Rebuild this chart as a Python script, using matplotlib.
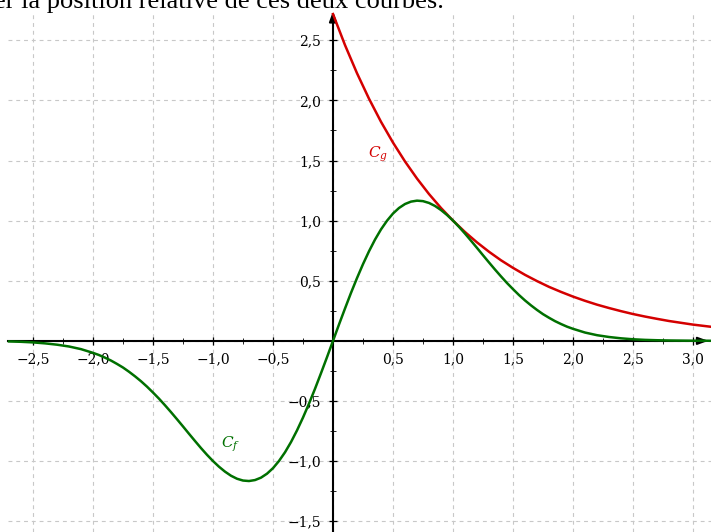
import matplotlib
matplotlib.use("Agg")
import matplotlib.pyplot as plt

x_f = [-2.7, -2.6, -2.5, -2.4, -2.3, -2.2, -2.1,
       -2.0, -1.95, -1.9, -1.85, -1.8, -1.75, -1.7, -1.65, -1.6, -1.55,
       -1.5, -1.45, -1.4, -1.35, -1.3, -1.25, -1.2, -1.15, -1.1, -1.05,
       -1.0, -0.95, -0.9, -0.85, -0.8, -0.75, -0.7, -0.65, -0.6, -0.55,
       -0.5, -0.45, -0.4, -0.35, -0.3, -0.25, -0.2, -0.15, -0.1, -0.05,
       0.0, 0.05, 0.1, 0.15, 0.2, 0.25, 0.3, 0.35, 0.4, 0.45,
       0.5, 0.55, 0.6, 0.65, 0.7, 0.75, 0.8, 0.85, 0.9, 0.95,
       1.0, 1.05, 1.1, 1.15, 1.2, 1.25, 1.3, 1.35, 1.4, 1.45,
       1.5, 1.55, 1.6, 1.65, 1.7, 1.75, 1.8, 1.85, 1.9, 1.95, 2.0,
       2.1, 2.2, 2.3, 2.4, 2.5, 2.6, 2.7, 2.8, 2.9, 3.0, 3.1, 3.2]
y_f = [-0.005, -0.008, -0.013, -0.021, -0.032, -0.047, -0.069,
       -0.100, -0.118, -0.140, -0.164, -0.192, -0.222, -0.257, -0.295, -0.336, -0.381,
       -0.430, -0.481, -0.536, -0.593, -0.652, -0.712, -0.773, -0.833, -0.892, -0.948,
       -1.000, -1.047, -1.088, -1.122, -1.147, -1.162, -1.166, -1.158, -1.138, -1.105,
       -1.059, -0.999, -0.927, -0.842, -0.745, -0.638, -0.522, -0.399, -0.269, -0.136,
       0.000, 0.136, 0.269, 0.399, 0.522, 0.638, 0.745, 0.842, 0.927, 0.999,
       1.059, 1.105, 1.138, 1.158, 1.166, 1.162, 1.147, 1.122, 1.088, 1.047,
       1.000, 0.948, 0.892, 0.833, 0.773, 0.712, 0.652, 0.593, 0.536, 0.481,
       0.430, 0.381, 0.336, 0.295, 0.257, 0.222, 0.192, 0.164, 0.140, 0.118, 0.100,
       0.069, 0.047, 0.032, 0.021, 0.013, 0.008, 0.005, 0.003, 0.002, 0.001, 0.001, 0.000]

x_g = [0.0, 0.1, 0.2, 0.3, 0.4, 0.5, 0.6, 0.7, 0.8, 0.9,
       1.0, 1.1, 1.2, 1.3, 1.4, 1.5, 1.6, 1.7, 1.8, 1.9,
       2.0, 2.1, 2.2, 2.3, 2.4, 2.5, 2.6, 2.7, 2.8, 2.9,
       3.0, 3.1, 3.2]
y_g = [2.718, 2.460, 2.226, 2.014, 1.822, 1.649, 1.492, 1.350, 1.221, 1.105,
       1.000, 0.905, 0.819, 0.741, 0.670, 0.607, 0.549, 0.497, 0.449, 0.407,
       0.368, 0.333, 0.301, 0.273, 0.247, 0.223, 0.202, 0.183, 0.165, 0.150,
       0.135, 0.123, 0.111]

x_ticks = [-2.5, -2.0, -1.5, -1.0, -0.5, 0.5, 1.0, 1.5, 2.0, 2.5, 3.0]
x_labels = ["−2,5", "−2,0", "−1,5", "−1,0", "−0,5", "0,5", "1,0", "1,5", "2,0", "2,5", "3,0"]
y_ticks = [-1.5, -1.0, -0.5, 0.5, 1.0, 1.5, 2.0, 2.5]
y_labels = ["−1,5", "−1,0", "−0,5", "0,5", "1,0", "1,5", "2,0", "2,5"]
grid_x = [-2.5, -2.0, -1.5, -1.0, -0.5, 0.0, 0.5, 1.0, 1.5, 2.0, 2.5, 3.0]
grid_y = [-1.5, -1.0, -0.5, 0.0, 0.5, 1.0, 1.5, 2.0, 2.5]
minor_x = [-2.25, -1.75, -1.25, -0.75, -0.25, 0.25, 0.75, 1.25, 1.75, 2.25, 2.75]
minor_y = [-1.25, -0.75, -0.25, 0.25, 0.75, 1.25, 1.75, 2.25]

xmin, xmax = -2.775, 3.15
ymin, ymax = -1.59, 2.835

fig = plt.figure(figsize=(7.11, 5.32), dpi=100)
ax = fig.add_axes([0, 0, 1, 1])
ax.set_xlim(xmin, xmax)
ax.set_ylim(ymin, ymax)

# dashed grid, clipped like the original
ax.vlines(grid_x, ymin, 2.72, colors="#c8c8c8", linestyles=(0, (3.5, 3.5)), lw=0.8, zorder=0)
ax.hlines(grid_y, -2.71, xmax, colors="#c8c8c8", linestyles=(0, (3.5, 3.5)), lw=0.8, zorder=0)

# axes through the origin
for s in ["top", "right"]:
    ax.spines[s].set_visible(False)
ax.spines["left"].set_position(("data", 0))
ax.spines["bottom"].set_position(("data", 0))
ax.spines["left"].set_bounds(ymin, 2.70)
ax.spines["bottom"].set_bounds(-2.71, 3.10)
ax.spines["left"].set_linewidth(1.5)
ax.spines["bottom"].set_linewidth(1.5)
ax.annotate("", xy=(0, 2.765), xytext=(0, 2.66),
            arrowprops=dict(arrowstyle="-|>,head_length=0.6,head_width=0.22", color="black", lw=1.5))
ax.annotate("", xy=(3.15, 0), xytext=(3.05, 0),
            arrowprops=dict(arrowstyle="-|>,head_length=0.6,head_width=0.22", color="black", lw=1.5))

ax.set_xticks(x_ticks, x_labels)
ax.set_yticks(y_ticks, y_labels)
ax.set_xticks(minor_x, minor=True)
ax.set_yticks(minor_y, minor=True)
ax.tick_params(which="major", direction="inout", length=6, width=0.9,
               labelsize=10, labelfontfamily="DejaVu Serif")
ax.tick_params(which="minor", direction="inout", length=4, width=0.6)
ax.tick_params(axis="x", pad=5.5)
ax.tick_params(axis="y", pad=5.5)

# curves
ax.plot(x_g, y_g, color="#d40000", lw=1.8, zorder=3)
ax.plot(x_f, y_f, color="#007000", lw=1.8, zorder=4)

ax.text(0.29, 1.55, "$C_g$", color="#d40000", fontsize=11, family="DejaVu Serif",
        ha="left", va="center", math_fontfamily="dejavuserif")
ax.text(-0.93, -0.86, "$C_f$", color="#007000", fontsize=11, family="DejaVu Serif",
        ha="left", va="center", math_fontfamily="dejavuserif")

# line of the surrounding document, cut at the top
fig.text(-0.008, 1 - 8 / 532, "er la position relative de ces deux courbes.",
         fontsize=19, family="Liberation Serif", ha="left", va="baseline")

fig.savefig("out.png", dpi=100)
